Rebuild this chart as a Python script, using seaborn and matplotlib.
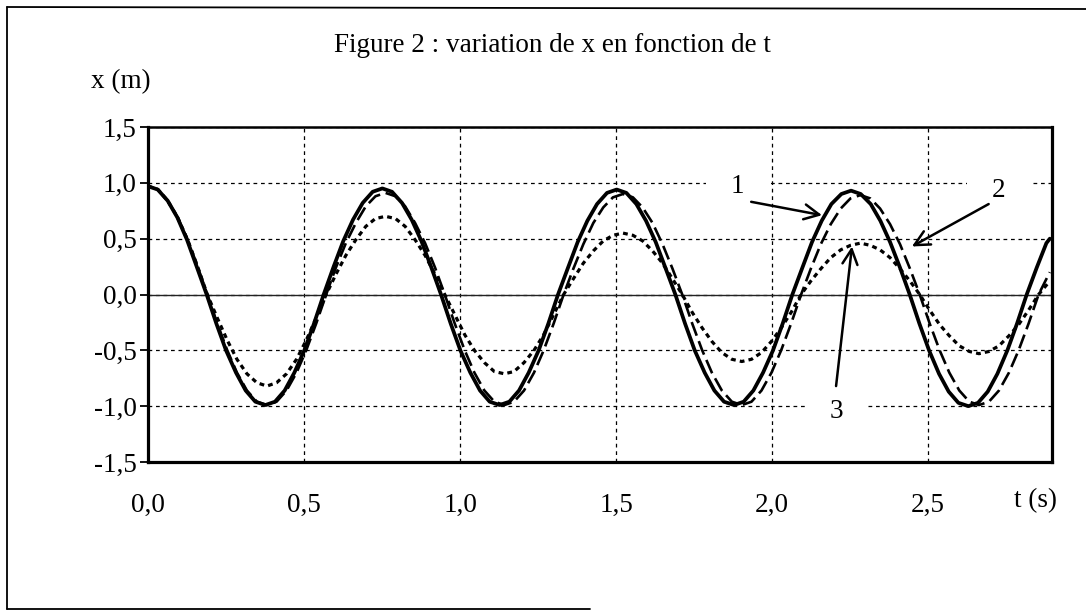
import matplotlib
matplotlib.use("Agg")
import matplotlib.pyplot as plt
from matplotlib.lines import Line2D
import seaborn as sns
import pandas as pd

# ---------------- data ----------------
# sample times for curve 1
t_curve1 = [0.000, 0.031, 0.063, 0.094, 0.125, 0.156, 0.188, 0.219, 0.250, 0.282,
            0.313, 0.344, 0.376, 0.407, 0.438, 0.469, 0.501, 0.532, 0.563, 0.595,
            0.626, 0.657, 0.688, 0.720, 0.751, 0.782, 0.814, 0.845, 0.876, 0.907,
            0.939, 0.970, 1.001, 1.033, 1.064, 1.095, 1.127, 1.158, 1.189, 1.220,
            1.252, 1.283, 1.314, 1.346, 1.377, 1.408, 1.439, 1.471, 1.502, 1.533,
            1.565, 1.596, 1.627, 1.658, 1.690, 1.721, 1.752, 1.784, 1.815, 1.846,
            1.878, 1.909, 1.940, 1.971, 2.003, 2.034, 2.065, 2.097, 2.128, 2.159,
            2.190, 2.222, 2.253, 2.284, 2.316, 2.347, 2.378, 2.410, 2.441, 2.472,
            2.503, 2.535, 2.566, 2.597, 2.629, 2.660, 2.691, 2.722, 2.754, 2.785,
            2.816, 2.848, 2.879, 2.890]
x_curve1 = [0.97, 0.94, 0.84, 0.69, 0.49, 0.25, 0.00,
            -0.26, -0.50, -0.70, -0.86, -0.96, -0.99, -0.96, -0.86, -0.70, -0.50, -0.26, 0.00,
            0.25, 0.48, 0.67, 0.82, 0.92, 0.95, 0.92, 0.82, 0.67, 0.48, 0.25, 0.00,
            -0.26, -0.50, -0.70, -0.86, -0.96, -0.99, -0.96, -0.86, -0.70, -0.50, -0.26, 0.00,
            0.24, 0.47, 0.66, 0.81, 0.91, 0.94, 0.91, 0.81, 0.66, 0.47, 0.24, 0.00,
            -0.26, -0.50, -0.70, -0.86, -0.96, -0.99, -0.96, -0.86, -0.70, -0.50, -0.26, 0.00,
            0.24, 0.47, 0.66, 0.81, 0.90, 0.93, 0.90, 0.81, 0.66, 0.47, 0.24, 0.00,
            -0.26, -0.50, -0.71, -0.87, -0.97, -1.00, -0.97, -0.87, -0.71, -0.50, -0.26, 0.00,
            0.24, 0.46, 0.50]

# sample times for curves 2 and 3
t_curve23 = [0.000, 0.032, 0.063, 0.095, 0.127, 0.159, 0.190, 0.222, 0.254, 0.285,
             0.317, 0.349, 0.381, 0.412, 0.444, 0.476, 0.507, 0.539, 0.571, 0.602,
             0.634, 0.666, 0.698, 0.729, 0.761, 0.793, 0.824, 0.856, 0.888, 0.920,
             0.951, 0.983, 1.015, 1.046, 1.078, 1.110, 1.142, 1.173, 1.205, 1.237,
             1.268, 1.300, 1.332, 1.363, 1.395, 1.427, 1.459, 1.490, 1.522, 1.554,
             1.585, 1.617, 1.649, 1.681, 1.712, 1.744, 1.776, 1.807, 1.839, 1.871,
             1.903, 1.934, 1.966, 1.998, 2.029, 2.061, 2.093, 2.124, 2.156, 2.188,
             2.220, 2.251, 2.283, 2.315, 2.346, 2.378, 2.410, 2.442, 2.473, 2.505,
             2.537, 2.568, 2.600, 2.632, 2.663, 2.695, 2.727, 2.759, 2.790, 2.822,
             2.854, 2.890]
x_curve2 = [0.97, 0.94, 0.84, 0.69, 0.49, 0.25, 0.00,
            -0.26, -0.50, -0.70, -0.86, -0.96, -0.99, -0.96, -0.86, -0.70, -0.50, -0.26, 0.00,
            0.24, 0.46, 0.64, 0.79, 0.88, 0.91, 0.88, 0.79, 0.64, 0.46, 0.24, 0.00,
            -0.26, -0.50, -0.70, -0.86, -0.96, -0.99, -0.96, -0.86, -0.70, -0.50, -0.26, 0.00,
            0.23, 0.45, 0.64, 0.78, 0.87, 0.90, 0.87, 0.78, 0.64, 0.45, 0.23, 0.00,
            -0.26, -0.50, -0.70, -0.86, -0.96, -0.99, -0.96, -0.86, -0.70, -0.50, -0.26, 0.00,
            0.23, 0.45, 0.63, 0.77, 0.86, 0.89, 0.86, 0.77, 0.63, 0.45, 0.23, 0.00,
            -0.26, -0.50, -0.70, -0.86, -0.96, -0.99, -0.96, -0.86, -0.70, -0.50, -0.26, 0.00,
            0.20]
x_curve3 = [0.97, 0.94, 0.84, 0.69, 0.49, 0.25, 0.00,
            -0.21, -0.41, -0.58, -0.71, -0.79, -0.82, -0.79, -0.71, -0.58, -0.41, -0.21, 0.00,
            0.18, 0.35, 0.49, 0.61, 0.68, 0.70, 0.68, 0.61, 0.49, 0.35, 0.18, 0.00,
            -0.18, -0.36, -0.50, -0.61, -0.69, -0.71, -0.69, -0.61, -0.50, -0.36, -0.18, 0.00,
            0.14, 0.28, 0.39, 0.48, 0.53, 0.55, 0.53, 0.48, 0.39, 0.28, 0.14, 0.00,
            -0.16, -0.30, -0.42, -0.52, -0.58, -0.60, -0.58, -0.52, -0.42, -0.30, -0.16, 0.00,
            0.12, 0.23, 0.33, 0.40, 0.44, 0.46, 0.44, 0.40, 0.33, 0.23, 0.12, 0.00,
            -0.14, -0.27, -0.37, -0.46, -0.51, -0.53, -0.51, -0.46, -0.37, -0.27, -0.14, 0.00,
            0.12]

x_ticks = [0.0, 0.5, 1.0, 1.5, 2.0, 2.5]
x_tick_labels = ["0,0", "0,5", "1,0", "1,5", "2,0", "2,5"]
y_ticks = [-1.5, -1.0, -0.5, 0.0, 0.5, 1.0, 1.5]
y_tick_labels = ["-1,5", "-1,0", "-0,5", "0,0", "0,5", "1,0", "1,5"]

curve_labels = ["1", "2", "3"]
title_text = "Figure 2 : variation de x en fonction de t"
y_label = "x (m)"
x_label = "t (s)"

# ---------------- style ----------------
sns.set_theme(style="white")
plt.rcParams["font.family"] = ["Liberation Serif", "DejaVu Serif"]
plt.rcParams["text.color"] = "black"
plt.rcParams["axes.labelcolor"] = "black"
plt.rcParams["xtick.color"] = "black"
plt.rcParams["ytick.color"] = "black"
FS = 19.5

fig = plt.figure(figsize=(10.86, 6.13), dpi=100)
W, H = 1086, 613
ax = fig.add_axes([148 / W, 1 - 462 / H, (1052 - 148) / W, (462 - 127) / H])
ax.set_facecolor("white")

df1 = pd.DataFrame({"t": t_curve1, "x": x_curve1})
df2 = pd.DataFrame({"t": t_curve23, "x": x_curve2})
df3 = pd.DataFrame({"t": t_curve23, "x": x_curve3})

sns.lineplot(data=df3, x="t", y="x", ax=ax, color="black", linewidth=2.3, zorder=3)
ax.lines[-1].set_linestyle((0, (1.5, 1.3)))
sns.lineplot(data=df2, x="t", y="x", ax=ax, color="black", linewidth=1.9, zorder=3)
ax.lines[-1].set_linestyle((0, (5.5, 2.2)))
sns.lineplot(data=df1, x="t", y="x", ax=ax, color="black", linewidth=2.7, zorder=4)
ax.lines[-1].set_solid_capstyle("round")
ax.lines[-1].set_solid_joinstyle("round")

ax.set_xlim(0, 2.897)
ax.set_ylim(-1.5, 1.5)

ax.set_xticks(x_ticks)
ax.set_xticklabels(x_tick_labels, fontsize=FS, color="black")
ax.set_yticks(y_ticks)
ax.set_yticklabels(y_tick_labels, fontsize=FS, color="black")
ax.tick_params(axis="x", length=0, pad=22, colors="black")
ax.tick_params(axis="y", length=5.5, width=1.3, pad=2.5, colors="black", left=True, direction="out")
ax.set_xlabel("")
ax.set_ylabel("")

ax.grid(True, which="major", color="black", linestyle=(0, (3, 3)), linewidth=0.9)
ax.axhline(0, color="#222222", linewidth=1.0, zorder=1.5)

for side in ["left", "bottom", "right"]:
    ax.spines[side].set_linewidth(2.3)
    ax.spines[side].set_color("black")
ax.spines["top"].set_linewidth(1.8)
ax.spines["top"].set_color("black")

# curve annotations
box = dict(boxstyle="square,pad=0.9", facecolor="white", edgecolor="none")
ax.text(1.888, 0.97, curve_labels[0], fontsize=FS, ha="center", va="center", bbox=box, zorder=5)
ax.text(2.726, 0.93, curve_labels[1], fontsize=FS, ha="center", va="center", bbox=box, zorder=5)
ax.text(2.205, -1.05, curve_labels[2], fontsize=FS, ha="center", va="center", bbox=box, zorder=5)

arrow = dict(arrowstyle="->,head_length=0.9,head_width=0.45", color="black", lw=1.8,
             shrinkA=0, shrinkB=0)
ax.annotate("", xy=(2.16, 0.71), xytext=(1.933, 0.83), arrowprops=arrow, zorder=6)
ax.annotate("", xy=(2.448, 0.43), xytext=(2.694, 0.81), arrowprops=arrow, zorder=6)
ax.annotate("", xy=(2.256, 0.43), xytext=(2.205, -0.82), arrowprops=arrow, zorder=6)

# texts outside the axes
fig.text(552 / W, 1 - 45 / H, title_text, fontsize=FS, ha="center", va="center", color="black")
fig.text(91 / W, 1 - 82 / H, y_label, fontsize=FS, ha="left", va="center", color="black")
fig.text(1036 / W, 1 - 501 / H, x_label, fontsize=FS, ha="center", va="center", color="black")

# outer frame of the scanned figure
frame_kw = dict(transform=fig.transFigure, color="black", linewidth=1.3)
fig.add_artist(Line2D([7 / W, 7 / W], [1 - 7 / H, 1 - 609 / H], **frame_kw))
fig.add_artist(Line2D([7 / W, 1.0], [1 - 7 / H, 1 - 9 / H], **frame_kw))
fig.add_artist(Line2D([7 / W, 590 / W], [1 - 609 / H, 1 - 609 / H], **frame_kw))

fig.savefig("out.png", dpi=100, facecolor="white")
